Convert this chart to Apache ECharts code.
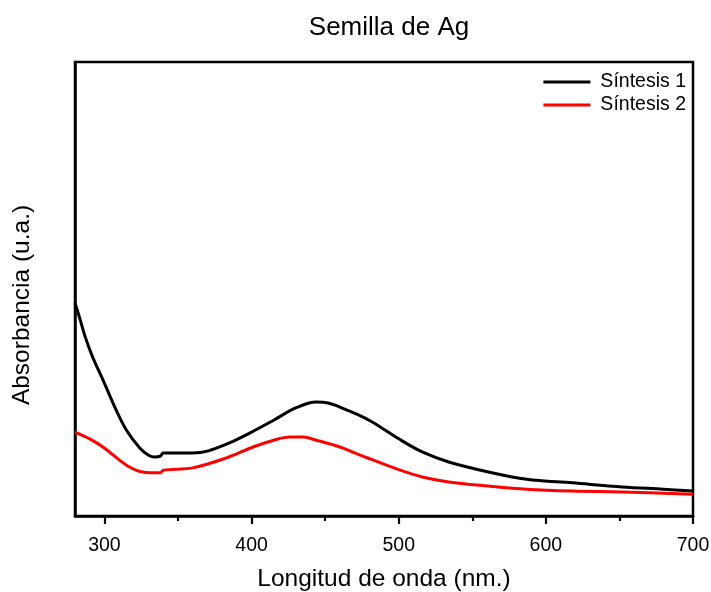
<!DOCTYPE html>
<html>
<head>
<meta charset="utf-8">
<script src="https://cdn.jsdelivr.net/npm/echarts@6/dist/echarts.min.js"></script>
<style>html,body{margin:0;padding:0;background:#fff}#c{width:711px;height:592px}</style>
</head>
<body>
<div id="c"></div>
<script>
const wavelengths1 = [280,283,287,292,299,308,315,324,330,334,338,340,350,360,370,385,399,415,430,444,452,460,473,482,500,516,534,561,587,618,652,680,700];
const sintesis1 = [0.469,0.438,0.394,0.350,0.300,0.233,0.189,0.150,0.134,0.130,0.132,0.139,0.139,0.139,0.143,0.161,0.183,0.211,0.238,0.251,0.249,0.240,0.222,0.207,0.170,0.141,0.119,0.097,0.081,0.073,0.064,0.059,0.055];
const wavelengths2 = [280,290,299,315,326,338,340,360,383,401,415,426,435,444,460,473,482,500,516,534,561,587,618,652,700];
const sintesis2 = [0.185,0.170,0.152,0.112,0.097,0.095,0.101,0.106,0.128,0.152,0.167,0.174,0.174,0.167,0.152,0.135,0.124,0.102,0.086,0.075,0.066,0.059,0.055,0.053,0.048];
const seriesNames = ['Síntesis 1','Síntesis 2'];
const xMin = 280, xMax = 700;
const xTicks = [300,400,500,600,700];
const xMinorTicks = [350,450,550,650];

const W = 711, L = 75, R = 18, T = 62, B = 76;
const plotW = W - L - R;
const px = v => (v - xMin) / (xMax - xMin) * plotW;

const chart = echarts.init(document.getElementById('c'));
const font = 'Liberation Sans, Arial, sans-serif';
const box = (l, r) => ({left:l,right:r,top:T,bottom:B,outerBoundsMode:'none',containLabel:false,show:false});
const tickAxis = (gi, lo, hi, len) => ({type:'value',gridIndex:gi,min:lo,max:hi,interval:100,position:'bottom',z:10,
    axisLine:{show:false},
    axisTick:{show:true,inside:false,length:len,lineStyle:{color:'#000',width:2.2}},
    axisLabel:{show:false},splitLine:{show:false}});
const majLo = xTicks[0], majHi = xTicks[xTicks.length-1];
const minLo = xMinorTicks[0], minHi = xMinorTicks[xMinorTicks.length-1];
chart.setOption({
  animation:false,
  title:{text:'Semilla de Ag',left:384,top:10,textAlign:'center',textStyle:{fontFamily:font,fontSize:26,fontWeight:'normal',color:'#000'}},
  legend:{orient:'vertical',right:20,top:67,itemWidth:47,itemHeight:3,itemGap:3,icon:'rect',
    textStyle:{fontFamily:font,fontSize:19.5,color:'#000',padding:[0,0,0,5]},data:seriesNames},
  grid:[Object.assign(box(L,R),{show:true,borderColor:'#000',borderWidth:2.5,backgroundColor:'transparent'}),
        box(L + px(majLo), R + plotW - px(majHi)),
        box(L + px(minLo), R + plotW - px(minHi))],
  xAxis:[{type:'value',gridIndex:0,min:xMin,max:xMax,position:'bottom',
    name:'Longitud de onda (nm.)',nameLocation:'middle',nameGap:51,
    nameTextStyle:{fontFamily:font,fontSize:24.5,color:'#000'},
    axisLine:{show:true,lineStyle:{color:'#000',width:2.5}},
    axisTick:{show:false},
    axisLabel:{fontFamily:font,fontSize:19.5,color:'#000',margin:20,customValues:xTicks},
    splitLine:{show:false}},
   tickAxis(1, majLo, majHi, 8),
   tickAxis(2, minLo, minHi, 5)],
  yAxis:[{type:'value',gridIndex:0,min:0,max:1,
    axisLine:{show:true,lineStyle:{color:'#000',width:2.5}},
    axisTick:{show:false},axisLabel:{show:false},splitLine:{show:false}},
   {type:'value',gridIndex:1,min:0,max:1,show:false},
   {type:'value',gridIndex:2,min:0,max:1,show:false}],
  graphic:[{type:'text',x:22,y:305,rotation:Math.PI/2,
    style:{text:'Absorbancia (u.a.)',fontFamily:font,fontSize:24.5,fill:'#000',align:'center',verticalAlign:'middle'}}],
  series:[
    {name:seriesNames[0],type:'line',xAxisIndex:0,yAxisIndex:0,showSymbol:false,smooth:0.35,lineStyle:{color:'#000',width:3},itemStyle:{color:'#000'},
      data:wavelengths1.map((w,i)=>[w,sintesis1[i]])},
    {name:seriesNames[1],type:'line',xAxisIndex:0,yAxisIndex:0,showSymbol:false,smooth:0.35,lineStyle:{color:'#ff0000',width:3},itemStyle:{color:'#ff0000'},
      data:wavelengths2.map((w,i)=>[w,sintesis2[i]])}
  ]
});
</script>
</body>
</html>
